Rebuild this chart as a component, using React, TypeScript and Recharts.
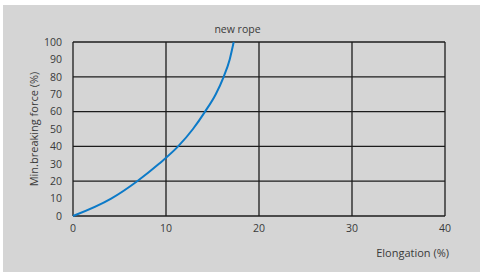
import { LineChart, Line, XAxis, YAxis, CartesianGrid } from "recharts";

// elongation (%) vs min. breaking force (%) for a new rope
const elongation = [0, 4.1, 6.9, 9.25, 11.3, 12.9, 14.2, 15.35, 16.2, 16.85, 17.28];
const breakingForce = [0, 10, 20, 30, 40, 50, 60, 70, 80, 90, 100];

const xTicks = [0, 10, 20, 30, 40];
const yTicks = [0, 10, 20, 30, 40, 50, 60, 70, 80, 90, 100];

const data = elongation.map((x, i) => ({ x, y: breakingForce[i] }));

const FONT = "'Open Sans', 'Noto Sans', sans-serif";
const TEXT = "#3a3a3a";

export default function App() {
  return (
    <div style={{ position: "absolute", left: 0, top: 0, width: 480, height: 272, background: "#fff" }}>
      <div style={{ position: "absolute", left: 3, top: 5, width: 477, height: 267, background: "#d5d5d5" }}>
        <div
          style={{
            position: "absolute",
            left: 0,
            width: 477,
            top: 17,
            textAlign: "center",
            fontFamily: FONT,
            fontSize: 10.5,
            color: TEXT,
          }}
        >
          <span style={{ position: "relative", left: -4 }}>new rope</span>
        </div>
        <LineChart width={477} height={267} data={data} margin={{ top: 37, right: 35, bottom: 11, left: 20 }}>
          <CartesianGrid stroke="#1c1c1c" strokeWidth={1.3} />
          <XAxis
            dataKey="x"
            type="number"
            domain={[0, 40]}
            ticks={xTicks}
            axisLine={false}
            tickLine={false}
            tickSize={0}
            tickMargin={9}
            height={45}
            tick={{ fill: TEXT, fontSize: 10.5, fontFamily: FONT }}
            label={{
              content: ({ viewBox }: any) => (
                <text
                  x={viewBox.x + viewBox.width + 4}
                  y={viewBox.y + 41}
                  textAnchor="end"
                  fill={TEXT}
                  fontSize={11}
                  fontFamily={FONT}
                >
                  Elongation (%)
                </text>
              ),
            }}
          />
          <YAxis
            type="number"
            domain={[0, 100]}
            ticks={yTicks}
            axisLine={false}
            tickLine={false}
            tickSize={0}
            tickMargin={11}
            width={50}
            tick={{ fill: TEXT, fontSize: 10.5, fontFamily: FONT }}
            label={{
              content: ({ viewBox }: any) => {
                const cx = viewBox.x + 10;
                const cy = viewBox.y + viewBox.height / 2;
                return (
                  <text
                    x={cx}
                    y={cy}
                    transform={`rotate(-90 ${cx} ${cy})`}
                    textAnchor="middle"
                    dominantBaseline="central"
                    fill={TEXT}
                    fontSize={11}
                    fontFamily={FONT}
                  >
                    Min.breaking force (%)
                  </text>
                );
              },
            }}
          />
          <Line
            type="monotone"
            dataKey="y"
            stroke="#0c7ac8"
            strokeWidth={2}
            dot={false}
            isAnimationActive={false}
          />
        </LineChart>
      </div>
    </div>
  );
}
